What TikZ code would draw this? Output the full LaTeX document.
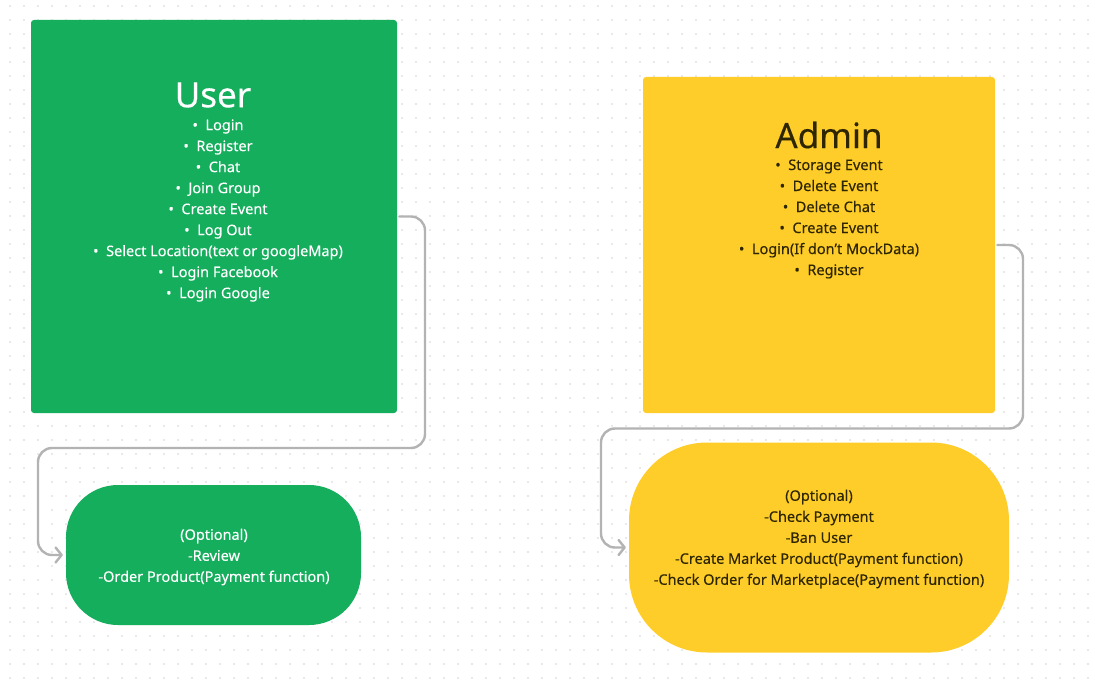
\documentclass[tikz,border=0pt]{standalone}
\usepackage{fontspec}
\setmainfont{Noto Sans}[FakeBold=0.25]
\usetikzlibrary{arrows.meta}
\definecolor{ugreen}{HTML}{14AE5C}
\definecolor{ayellow}{HTML}{FFCD29}
\definecolor{darktxt}{HTML}{2E2600}
\definecolor{conngray}{HTML}{B3B3B3}
\definecolor{dotgray}{HTML}{D3D3D3}
\tikzset{
  card/.style={draw=none, rectangle, rounded corners=3pt, inner sep=0pt},
  pill/.style={draw=none, rectangle, inner sep=0pt},
  titletxt/.style={font=\fontsize{35}{40}\selectfont, inner sep=0pt},
  listtxt/.style={font=\fontsize{14.5}{21}\selectfont, align=center, inner sep=0pt},
  conn/.style={draw=conngray, line width=2.4pt, rounded corners=14pt, line cap=round, line join=round,
    -{Straight Barb[length=6pt, width=15pt, line cap=round, line join=round]}},
}
\begin{document}
\begin{tikzpicture}[x=1pt,y=-1pt]
\useasboundingbox (0,0) rectangle (1095,682);
\fill[white] (0,0) rectangle (1095,682);
\foreach \i in {0,...,77}{
  \foreach \j in {0,...,48}{
    \fill[dotgray] ({10+14*\i},{6+14*\j}) circle (0.95pt);
  }
}
% user card
\node[card, fill=ugreen, minimum width=366pt, minimum height=393pt] (user) at (214,216.5) {};
\node[titletxt, text=white] (usertitle) at (213,95) {User};
\node[listtxt, text=white] (userlist) at (218,210.5) {%
\textbullet\ \ Login\\
\textbullet\ \ Register\\
\textbullet\ \ Chat\\
\textbullet\ \ Join Group\\
\textbullet\ \ Create Event\\
\textbullet\ \ Log Out\\
\textbullet\ \ Select Location(text or googleMap)\\
\textbullet\ \ Login Facebook\\
\textbullet\ \ Login Google};
% user pill
\node[pill, fill=ugreen, rounded corners=52pt, minimum width=295pt, minimum height=140pt] (upill) at (213.5,555) {};
\node[listtxt, text=white] (upilltxt) at (214,557) {(Optional)\\-Review\\-Order Product(Payment function)};
% admin card
\node[card, fill=ayellow, minimum width=352pt, minimum height=336pt] (admin) at (819,245) {};
\node[titletxt, text=darktxt] (admintitle) at (829,135) {Admin};
\node[listtxt, text=darktxt] (adminlist) at (829,219) {%
\textbullet\ \ Storage Event\\
\textbullet\ \ Delete Event\\
\textbullet\ \ Delete Chat\\
\textbullet\ \ Create Event\\
\textbullet\ \ Login(If don’t MockData)\\
\textbullet\ \ Register};
% admin pill
\node[pill, fill=ayellow, rounded corners=78pt, minimum width=380pt, minimum height=210pt] (apill) at (819,547.5) {};
\node[listtxt, text=darktxt] (apilltxt) at (819,539) {(Optional)\\-Check Payment\\-Ban User\\-Create Market Product(Payment function)\\-Check Order for Marketplace(Payment function)};
% connectors
\draw[conn] ([xshift=2pt]user.east) -- (425,216.5) -- (425,448) -- (38,448) -- (38,555) -- ([xshift=-3pt]upill.west);
\draw[conn] ([xshift=2pt]admin.east) -- (1023,245) -- (1023,428.5) -- (601,428.5) -- (601,547.5) -- ([xshift=-3pt]apill.west);
\end{tikzpicture}
\end{document}
